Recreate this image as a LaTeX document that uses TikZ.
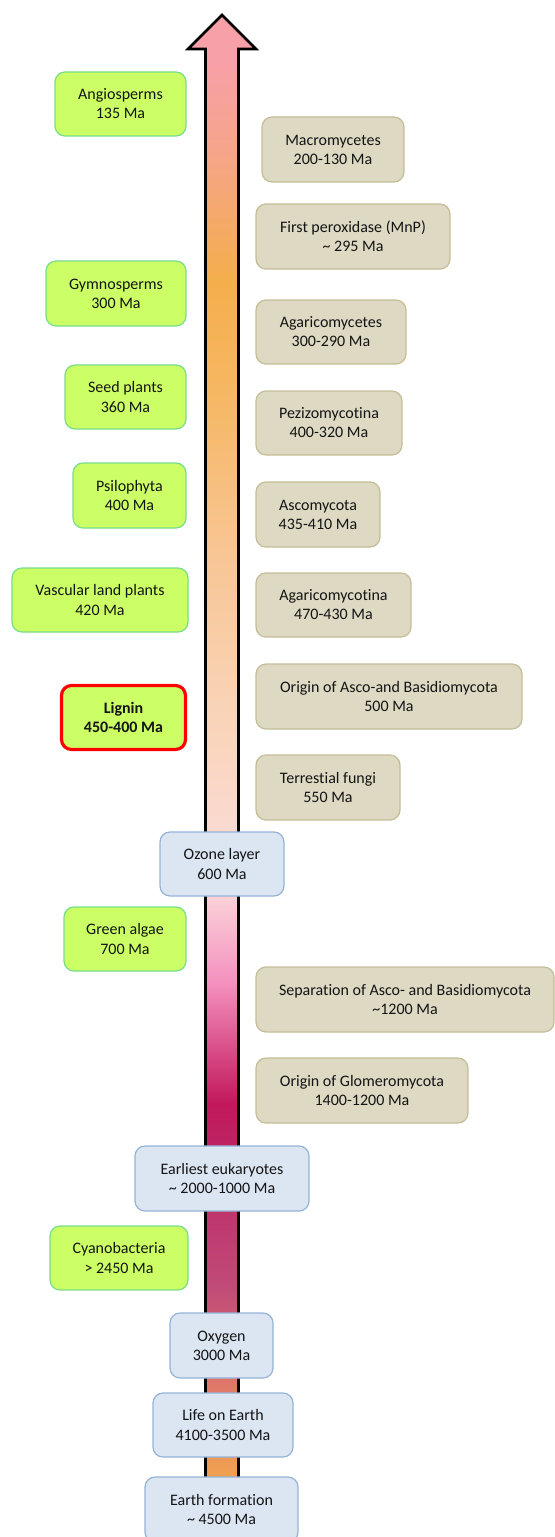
\documentclass[tikz,border=0pt]{standalone}
\usepackage{fontspec}
\setmainfont{Carlito}[Ligatures=NoCommon]
\newdimen\pxu \pxu=0.75pt
\definecolor{plantfill}{HTML}{CCFF66}
\definecolor{plantline}{HTML}{77DD88}
\definecolor{fungfill}{HTML}{DDD9C3}
\definecolor{fungline}{HTML}{C4BD97}
\definecolor{earthfill}{HTML}{DCE6F2}
\definecolor{earthline}{HTML}{95B3D7}
\definecolor{txt}{HTML}{141414}
\definecolor{cA}{HTML}{F8A0A8}
\definecolor{cB}{HTML}{F6A48A}
\definecolor{cC}{HTML}{F5AE4C}
\definecolor{cD}{HTML}{F6B865}
\definecolor{cE}{HTML}{F8C594}
\definecolor{cF}{HTML}{F9D3B5}
\definecolor{cG}{HTML}{FBDCDC}
\definecolor{cH}{HTML}{F490BE}
\definecolor{cI}{HTML}{C2185B}
\definecolor{cJ}{HTML}{BE2060}
\definecolor{cK}{HTML}{C04A78}
\definecolor{cL}{HTML}{E07A68}
\definecolor{cM}{HTML}{F0A050}
\pgfdeclareverticalshading{arrowshade}{100bp}{%
color(0bp)=(cM); color(25bp)=(cM); color(26.01bp)=(cM); color(28.87bp)=(cL);
color(32.41bp)=(cK); color(37.46bp)=(cJ); color(38.47bp)=(cI); color(42.51bp)=(cH);
color(45.88bp)=(cG); color(51.94bp)=(cF); color(56.99bp)=(cE); color(62.04bp)=(cD);
color(66.08bp)=(cC); color(70.45bp)=(cB); color(73.48bp)=(cA); color(75bp)=(cA);
color(100bp)=(cA)}
\tikzset{
  box/.style={rounded corners=7.5pt, align=center, text=txt, inner sep=0pt,
    line width=0.9pt, font=\fontsize{12}{14.3}\selectfont},
  plant/.style={box, fill=plantfill, draw=plantline},
  fungus/.style={box, fill=fungfill, draw=fungline},
  earth/.style={box, fill=earthfill, draw=earthline},
  keybox/.style={box, fill=plantfill, draw=red, line width=2.4pt,
    font=\fontsize{12}{14.3}\selectfont\bfseries},
  timearrow/.style={draw=black, line width=2pt, miter limit=10, shading=arrowshade},
}
\begin{document}
\begin{tikzpicture}[x=0.75pt, y=-0.75pt]
\useasboundingbox (0,0) rectangle (554,1537);
% time arrow
\path[timearrow] (205.5,1505) -- (205.5,49) -- (188,49) -- (222,15) -- (256,49)
  -- (238.5,49) -- (238.5,1505) -- cycle;
% plants (left)
\node[plant, minimum width=131\pxu, minimum height=64\pxu] (ang) at (120.5,104) {Angiosperms\\135 Ma};
\node[plant, minimum width=140\pxu, minimum height=65\pxu] (gym) at (116,293.5) {Gymnosperms\\300 Ma};
\node[plant, minimum width=121\pxu, minimum height=64\pxu] (seed) at (125.5,397) {Seed plants\\360 Ma};
\node[plant, minimum width=113\pxu, minimum height=65\pxu] (psi) at (129.5,495.5) {Psilophyta\\400 Ma};
\node[plant, minimum width=176\pxu, minimum height=64\pxu] (vas) at (100,600) {Vascular land plants\\420 Ma};
\node[keybox, minimum width=124\pxu, minimum height=64\pxu] (lig) at (123.5,717.5) {Lignin\\450-400 Ma};
\node[plant, minimum width=122\pxu, minimum height=64\pxu] (alg) at (125,939) {Green algae\\700 Ma};
\node[plant, minimum width=138\pxu, minimum height=64\pxu] (cya) at (119,1258) {Cyanobacteria\\> 2450 Ma};
% fungi (right)
\node[fungus, minimum width=142\pxu, minimum height=65\pxu] (mac) at (333,149.5) {Macromycetes\\200-130 Ma};
\node[fungus, minimum width=194\pxu, minimum height=65\pxu] (mnp) at (353,236.5) {First peroxidase (MnP)\\\textasciitilde\ 295 Ma};
\node[fungus, minimum width=150\pxu, minimum height=64\pxu] (agm) at (331,332) {Agaricomycetes\\300-290 Ma};
\node[fungus, minimum width=146\pxu, minimum height=64\pxu] (pez) at (329,423) {Pezizomycotina\\400-320 Ma};
\node[fungus, minimum width=124\pxu, minimum height=65\pxu] (asc) at (318,514.5) {Ascomycota\\435-410 Ma};
\node[fungus, minimum width=155\pxu, minimum height=64\pxu] (agt) at (333.5,605) {Agaricomycotina\\470-430 Ma};
\node[fungus, minimum width=266\pxu, minimum height=65\pxu] (oab) at (389,696.5) {Origin of Asco-and Basidiomycota\\500 Ma};
\node[fungus, minimum width=144\pxu, minimum height=65\pxu] (ter) at (328,787.5) {Terrestial fungi\\550 Ma};
\node[fungus, minimum width=298\pxu, minimum height=65\pxu] (sep) at (405,999.5) {Separation of Asco- and Basidiomycota\\\textasciitilde1200 Ma};
\node[fungus, minimum width=212\pxu, minimum height=65\pxu] (glo) at (362,1090.5) {Origin of Glomeromycota\\1400-1200 Ma};
% earth events (centre)
\node[earth, minimum width=124\pxu, minimum height=64\pxu] (ozo) at (222,864) {Ozone layer\\600 Ma};
\node[earth, minimum width=174\pxu, minimum height=65\pxu] (euk) at (222,1178.5) {Earliest eukaryotes\\\textasciitilde\ 2000-1000 Ma};
\node[earth, minimum width=103\pxu, minimum height=65\pxu] (oxy) at (221.5,1345.5) {Oxygen\\3000 Ma};
\node[earth, minimum width=140\pxu, minimum height=64\pxu] (lif) at (223,1425) {Life on Earth\\4100-3500 Ma};
\node[earth, minimum width=153\pxu, minimum height=65\pxu] (ear) at (221.5,1509.5) {Earth formation\\\textasciitilde\ 4500 Ma};
\end{tikzpicture}
\end{document}
